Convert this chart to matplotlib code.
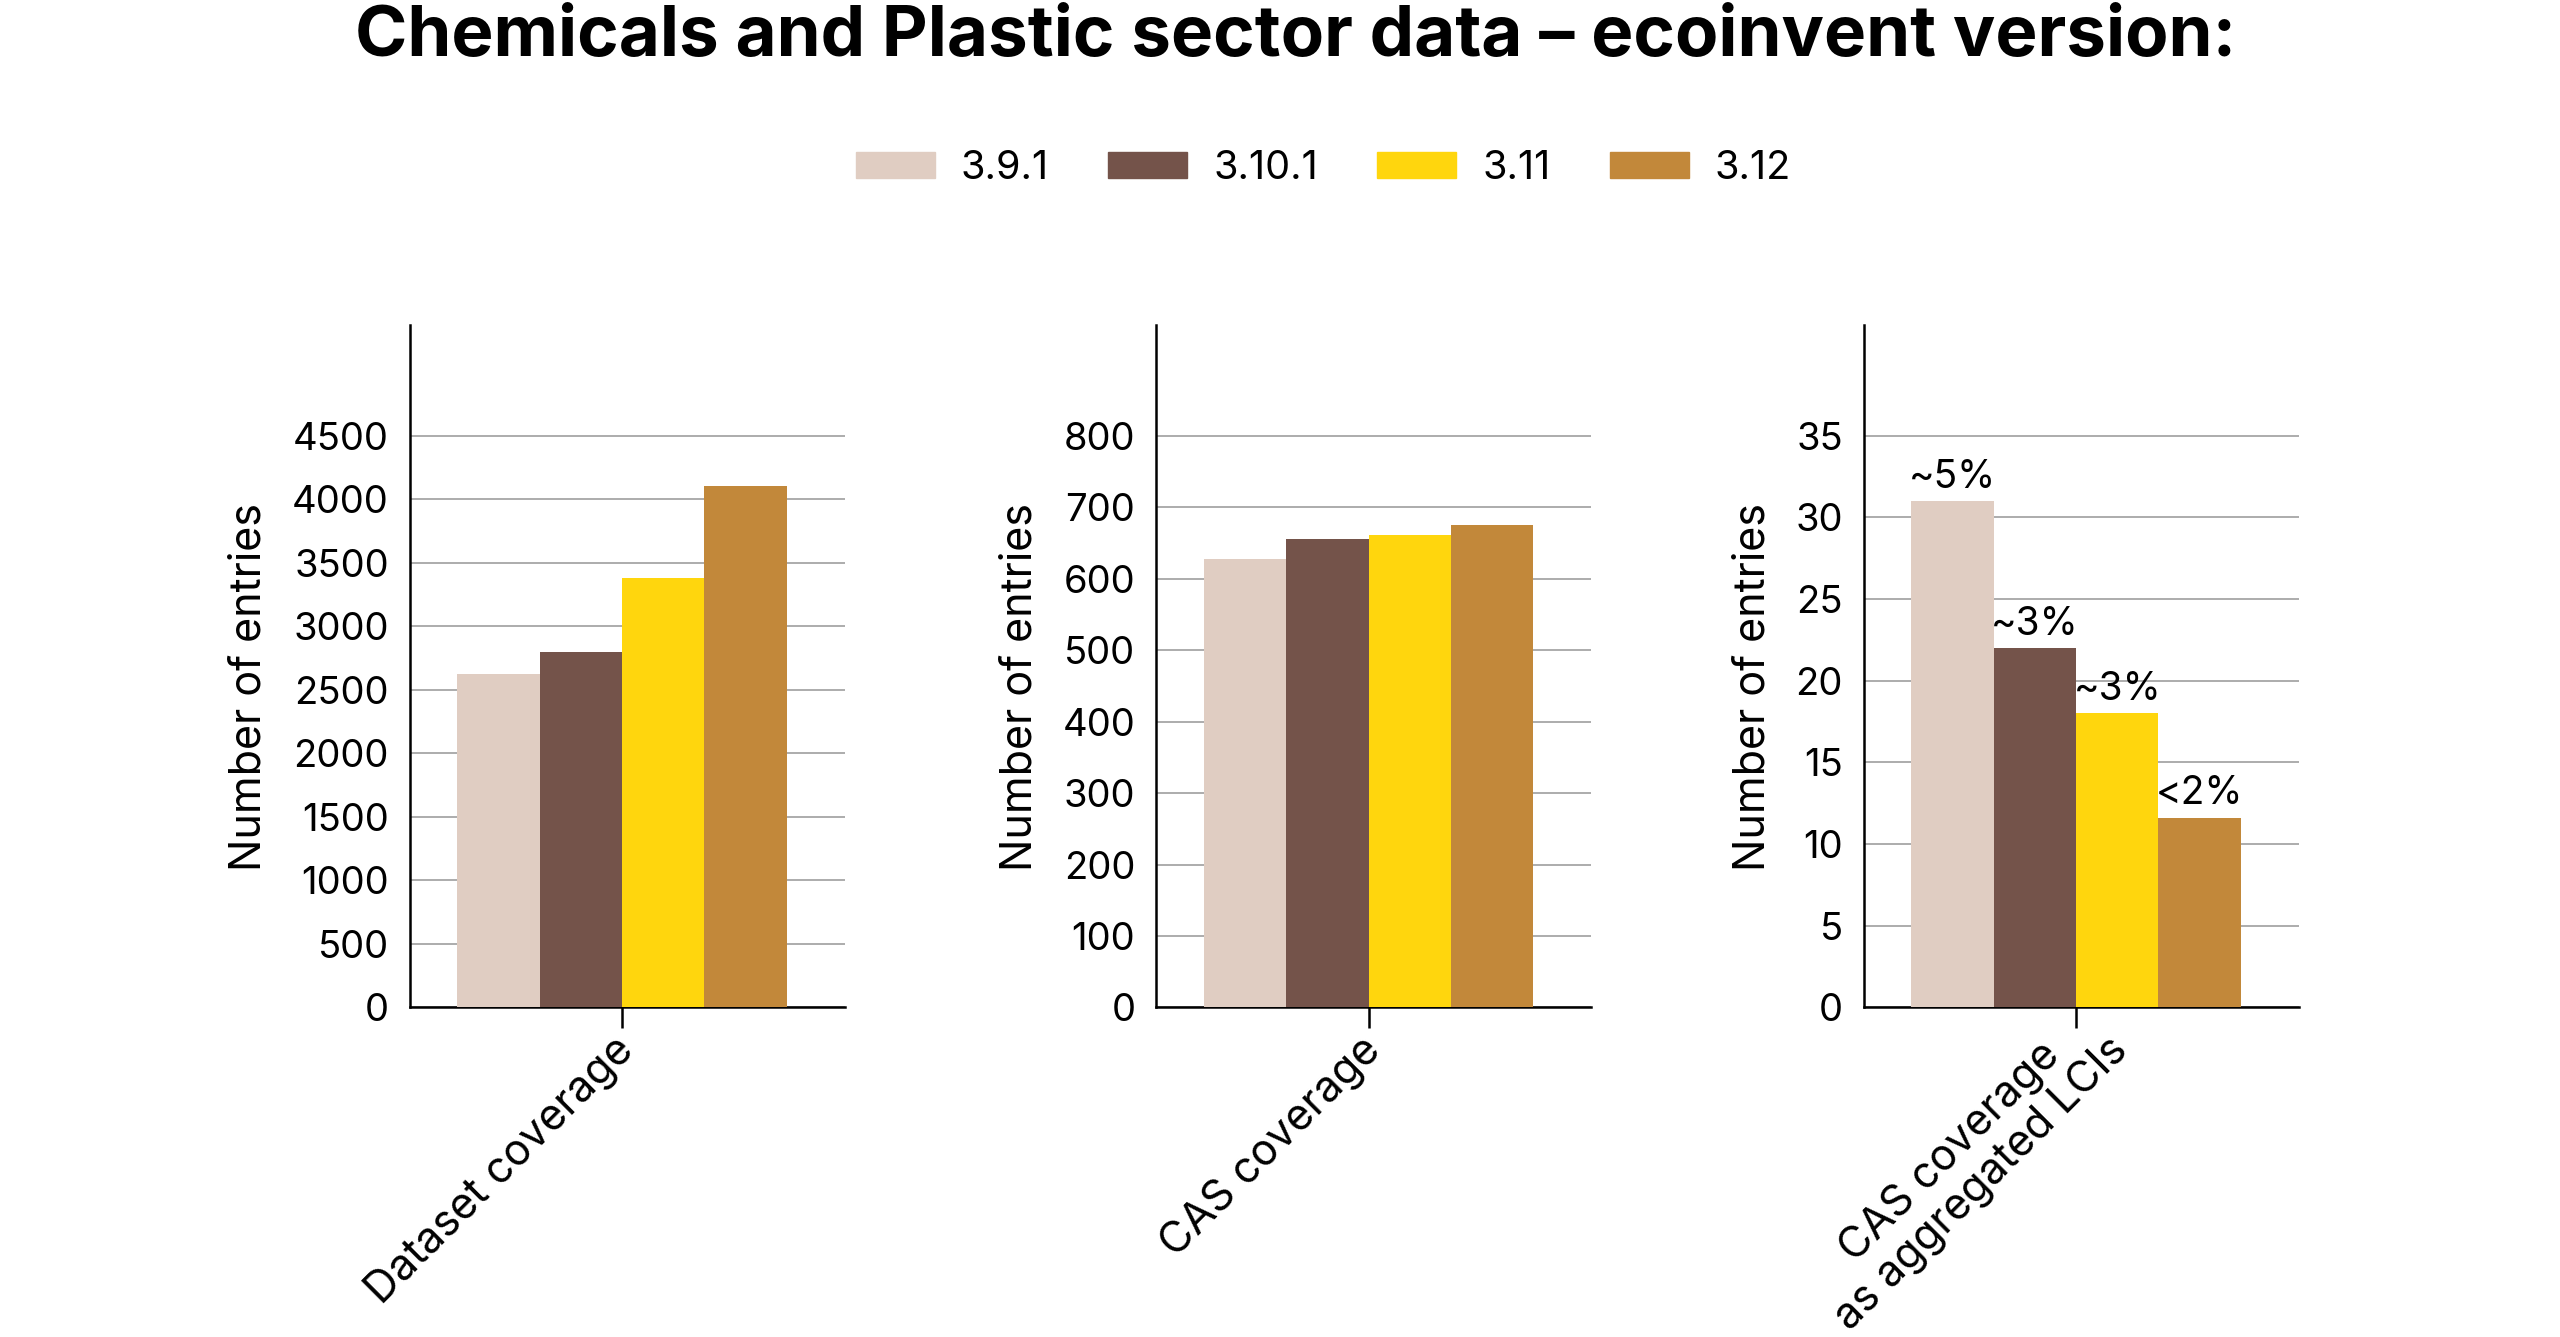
import matplotlib
matplotlib.use("Agg")
import matplotlib.pyplot as plt
from matplotlib.patches import Patch

plt.rcParams['font.family'] = ['Inter', 'DejaVu Sans']

versions = ["3.9.1", "3.10.1", "3.11", "3.12"]
colors = ["#E0CDC2", "#74534A", "#FFD60D", "#C2883A"]

panel_labels = ["Dataset coverage", "CAS coverage", "CAS coverage\nas aggregated LCIs"]
dataset_cov = [2627, 2798, 3380, 4104]
cas_cov = [628, 655, 661, 675]
cas_lci = [31, 22, 18, 11.6]
cas_lci_pct = ["~5%", "~3%", "~3%", "<2%"]

yticks = [list(range(0, 4501, 500)), list(range(0, 801, 100)), list(range(0, 36, 5))]
panel_values = [dataset_cov, cas_cov, cas_lci]
# label anchor offsets (points) relative to the x tick position
label_offsets = [(4, -26), (4, -26), (21, -15)]

fig = plt.figure(figsize=(25.6, 13.37), dpi=100)
lefts = [0.160, 0.4516, 0.728]
width = 0.170
bottom, height = 0.2465, 0.5105

bw = 0.2
offsets = [-0.3, -0.1, 0.1, 0.3]
fs_tick = 27.5

for i in range(3):
    ax = fig.add_axes([lefts[i], bottom, width, height])
    vals = panel_values[i]
    bars = ax.bar(offsets, vals, width=bw, color=colors, zorder=3)
    ax.set_xlim(-0.516, 0.541)
    ax.set_ylim(0, yticks[i][-1] * 1.194)
    ax.set_yticks(yticks[i])
    ax.set_xticks([0])
    ax.set_xticklabels([""])
    ax.tick_params(axis='y', length=0, labelsize=fs_tick, pad=15)
    ax.tick_params(axis='x', length=15, width=1.8)
    ax.grid(axis='y', color='#A6A6A6', linewidth=1.3, zorder=0)
    for s in ['top', 'right']:
        ax.spines[s].set_visible(False)
    for s in ['left', 'bottom']:
        ax.spines[s].set_linewidth(1.8)
    ax.set_ylabel("Number of entries", fontsize=31, labelpad=16)
    ax.yaxis.label.set_y(0.47)
    dx, dy = label_offsets[i]
    ax.annotate(panel_labels[i], xy=(0, 0), xycoords=('data', 'axes fraction'),
                xytext=(dx, dy), textcoords='offset points',
                rotation=45, rotation_mode='anchor', ha='right', va='center',
                multialignment='center', linespacing=1.1, fontsize=31,
                annotation_clip=False)
    if i == 2:
        for b, t in zip(bars, cas_lci_pct):
            ax.annotate(t, (b.get_x() + b.get_width() / 2, b.get_height()),
                        xytext=(0, 4), textcoords='offset points',
                        ha='center', va='bottom', fontsize=28)

handles = [Patch(color=c, label=v) for c, v in zip(colors, versions)]
fig.legend(handles=handles, loc='center', bbox_to_anchor=(0.517, 0.874), ncol=4,
           frameon=False, fontsize=28.5, handlelength=2.0, handleheight=0.6,
           columnspacing=1.5, handletextpad=0.65)

fig.text(0.506, 0.972, "Chemicals and Plastic sector data \u2013 ecoinvent version:",
         ha='center', va='center', fontsize=51, fontweight='bold')

fig.savefig("out.png", dpi=100)
